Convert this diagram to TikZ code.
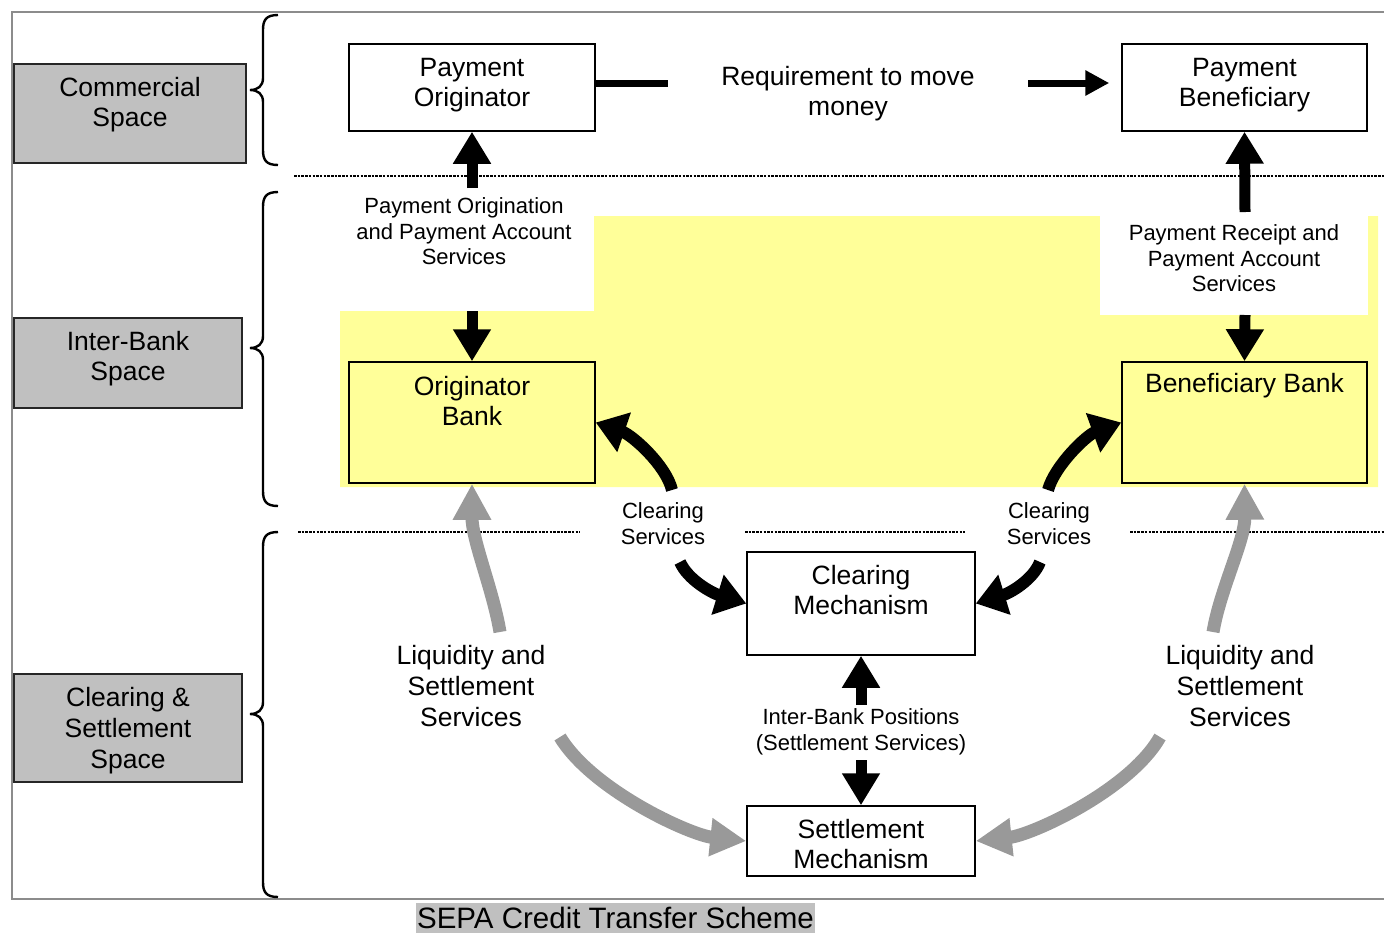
\documentclass[tikz,border=0pt]{standalone}
\usepackage{fontspec}
\setmainfont{Liberation Sans}
\usetikzlibrary{arrows.meta}
\definecolor{ylw}{HTML}{FFFF99}
\definecolor{gbox}{HTML}{C0C0C0}
\definecolor{garrow}{HTML}{999999}
\definecolor{framec}{HTML}{8C8C8C}
\begin{document}
\begin{tikzpicture}[x=1pt,y=-1pt,
  box/.style={draw=black, line width=1.5pt, fill=white, inner sep=0pt},
  ybox/.style={box, fill=ylw},
  gbx/.style={draw=black!85, line width=1.8pt, fill=gbox, inner sep=0pt},
  big/.style={align=center, inner sep=0pt, font=\fontsize{26.5}{30}\selectfont},
  liq/.style={align=center, inner sep=0pt, font=\fontsize{26.5}{31}\selectfont},
  small/.style={align=center, inner sep=0pt, font=\fontsize{22}{25.5}\selectfont},
  sep/.style={line width=2.2pt, dash pattern=on 2.5pt off 1.2pt},
  brc/.style={line width=2.4pt},
  harrow/.style={line width=7pt, -{Triangle[width=24pt,length=24pt]}},
  varrow/.style={line width=11pt, -{Triangle[width=36pt,length=32pt]}},
  carrow/.style={line width=12pt, -{Triangle[width=40pt,length=30pt]}},
  garw/.style={draw=garrow, line width=13pt, -{Triangle[width=36pt,length=36pt]}}
]
\useasboundingbox (0,0) rectangle (1384,932);
% frame
\draw[framec, line width=2.5pt] (1384,12) -- (12,12) -- (12,899) -- (1384,899);
% yellow region
\fill[ylw] (340,311) -- (594,311) -- (594,216) -- (1378,216) -- (1378,487) -- (340,487) -- cycle;
\fill[white] (1100,216) rectangle (1368,315);
% separators
\draw[sep] (294,176) -- (1384,176);
\draw[sep] (298,532) -- (580,532);
\draw[sep] (745,532) -- (965,532);
\draw[sep] (1130,532) -- (1384,532);
% braces
\draw[brc] (278,15) .. controls (266,15) and (263,20) .. (263,30) -- (263,78) .. controls (263,86) and (258,90) .. (250,90) .. controls (258,90) and (263,94) .. (263,102) -- (263,150) .. controls (263,160) and (266,165) .. (278,165);
\draw[brc] (278,192) .. controls (266,192) and (263,197) .. (263,207) -- (263,336) .. controls (263,344) and (258,348) .. (250,348) .. controls (258,348) and (263,352) .. (263,360) -- (263,491) .. controls (263,501) and (266,506) .. (278,506);
\draw[brc] (278,532) .. controls (266,532) and (263,537) .. (263,547) -- (263,702) .. controls (263,710) and (258,714) .. (250,714) .. controls (258,714) and (263,718) .. (263,726) -- (263,882) .. controls (263,892) and (266,897) .. (278,897);
% gray side boxes
\node[gbx, minimum width=232pt, minimum height=99pt] (csp) at (130,113.5) {};
\node[big] (csptxt) at (130,105) {Commercial\\Space};
\node[gbx, minimum width=228pt, minimum height=90pt] (ibs) at (128,363) {};
\node[big] (ibstxt) at (128,359) {Inter-Bank\\Space};
\node[gbx, minimum width=228pt, minimum height=108pt] (css) at (128,728) {};
\node[liq] (csstxt) at (128,731) {Clearing \&\\Settlement\\Space};
% main boxes
\node[box, minimum width=246pt, minimum height=87pt] (po) at (472,87.5) {};
\node[big] (potxt) at (472,85) {Payment\\Originator};
\node[box, minimum width=245pt, minimum height=87pt] (pb) at (1244.5,87.5) {};
\node[big] (pbtxt) at (1244.5,85) {Payment\\Beneficiary};
\node[ybox, minimum width=246pt, minimum height=121pt] (ob) at (472,422.5) {};
\node[big] (obtxt) at (472,401) {Originator\\Bank};
\node[ybox, minimum width=245pt, minimum height=121pt] (bb) at (1244.5,422.5) {};
\node[big] (bbtxt) at (1244.5,386) {Beneficiary Bank};
\node[box, minimum width=228pt, minimum height=103pt] (cm) at (861,603.5) {};
\node[big] (cmtxt) at (861,590) {Clearing\\Mechanism};
\node[box, minimum width=228pt, minimum height=70pt] (sm) at (861,841) {};
\node[big] (smtxt) at (861,844.5) {Settlement\\Mechanism};
% labels
\node[big, minimum width=360pt] (req) at (848,94) {Requirement to move\\money};
\node[small] (poas) at (464,231.5) {Payment Origination\\and Payment Account\\Services};
\node[small] (prs) at (1234,258.5) {Payment Receipt and\\Payment Account\\Services};
\node[small] (cs1) at (663,523.5) {Clearing\\Services};
\node[small] (cs2) at (1049,523.5) {Clearing\\Services};
\node[small] (ibp) at (861,732) {Inter-Bank Positions\\(Settlement Services)};
\node[liq] (ls1) at (471,686) {Liquidity and\\Settlement\\Services};
\node[liq] (ls2) at (1240,686) {Liquidity and\\Settlement\\Services};
% caption
\node[fill=gbox, inner sep=0pt, minimum width=399pt, minimum height=30pt, font=\fontsize{29.5}{32}\selectfont] (cap) at (615.5,917.5) {SEPA Credit Transfer Scheme};
% connector start points
\coordinate (a1) at (472,188);
\coordinate (a2) at (472,311);
\coordinate (a3) at (1245,212);
\coordinate (a4) at (1245,315);
\coordinate (c1) at (672,490);
\coordinate (c2) at (680,562);
\coordinate (c3) at (1040,562);
\coordinate (c4) at (1048,490);
\coordinate (g1) at (500,632);
\coordinate (g2) at (560,737);
\coordinate (g3) at (1213,632);
\coordinate (g4) at (1160,737);
\coordinate (i1) at (861,705);
\coordinate (i2) at (861,760);
% horizontal requirement arrow
\draw[line width=7pt] ([yshift=4.5pt]po.east) -- ([yshift=4.5pt]po.east -| req.west);
\draw[harrow, shorten >=12pt] ([yshift=4.5pt]pb.west -| req.east) -- ([yshift=4.5pt]pb.west);
% vertical arrows
\draw[varrow] (a1) -- (po.south);
\draw[varrow] (a2) -- (ob.north);
\draw[varrow] (a3) -- (pb.south);
\draw[varrow] (a4) -- (bb.north);
\draw[varrow] (i1) -- (cm.south);
\draw[varrow] (i2) -- (sm.north);
% clearing arrows
\draw[carrow] (c1) .. controls (666,465) and (632,435) .. (ob.east);
\draw[carrow] (c2) .. controls (688,580) and (712,593) .. (cm.west);
\draw[carrow] (c3) .. controls (1033,580) and (1010,593) .. (cm.east);
\draw[carrow] (c4) .. controls (1055,465) and (1087,435) .. (bb.west);
% liquidity arrows
\draw[garw] (g1) .. controls (493,590) and (472,540) .. (ob.south);
\draw[garw] (g2) .. controls (592,790) and (690,835) .. (sm.west);
\draw[garw] (g3) .. controls (1220,590) and (1245,540) .. (bb.south);
\draw[garw] (g4) .. controls (1130,790) and (1032,835) .. (sm.east);
\end{tikzpicture}
\end{document}
